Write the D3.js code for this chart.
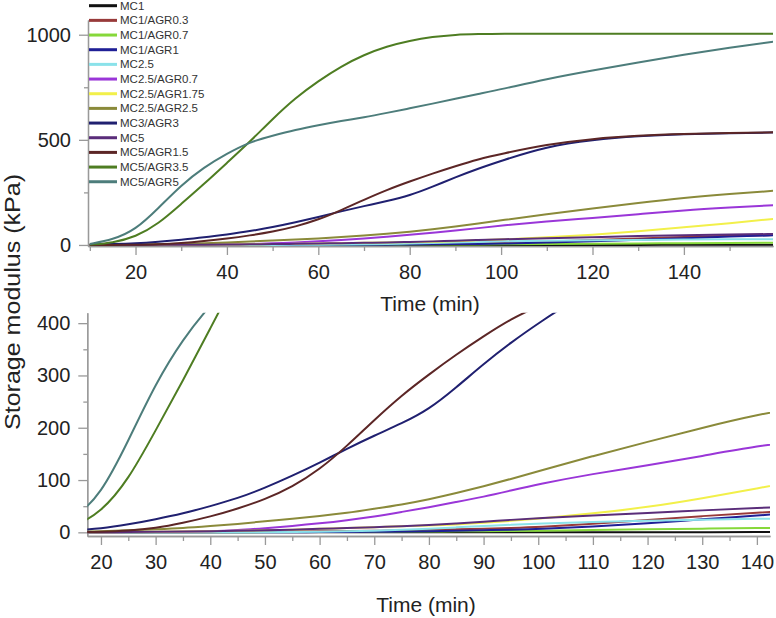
<!DOCTYPE html>
<html>
<head>
<meta charset="utf-8">
<script src="https://cdn.jsdelivr.net/npm/d3@7"></script>
<style>
  body { margin: 0; background: #fff; }
  svg { display: block; font-family: "Liberation Sans", Arial, sans-serif; }
  .axis path, .axis line { stroke: #999; stroke-width: 1.3; }
  .axis text { fill: #222; font-size: 20px; font-family: "Liberation Sans", Arial, sans-serif; }
</style>
</head>
<body>
<div class="container"></div>
<script>
// time points (min)
const times = [10, 15, 20, 25, 30, 35, 40, 45, 50, 55, 60, 65, 70, 75, 80, 85, 90, 95, 100, 110, 120, 130, 140, 150, 160];

// storage modulus (kPa) per formulation
const mc1        = [0, 0, 0, 0, 0, 0, 0, 0, 0, 0, 0, 0, 0, 0, 0, 0, 0, 0, 0, 0, 0, 0.3, 0.8, 1, 1];
const mc1Agr03   = [0, 0, 0, 0, 0.5, 0.5, 1, 1, 1.5, 1.5, 2, 2.5, 3, 4, 5, 6, 7, 8.5, 10, 16, 24, 31, 38, 43, 47];
const mc1Agr07   = [0, 0, 0, 0, 0, 0, 0, 0, 0.5, 0.5, 0.5, 1, 1, 1.5, 1.5, 2, 2, 2.5, 3, 4.5, 6, 7, 8, 9.5, 11];
const mc1Agr1    = [0, 0, 0, 0, 0, 0, 0, 0, 0, 0, 0.5, 0.5, 1, 1.5, 2, 3, 4, 5, 6, 11, 17, 25, 32, 40, 46];
const mc25       = [0, 0, 0, 0, 0, 0, 0, 0, 0, 0.5, 1, 2, 3, 5, 7, 9.5, 12, 14.5, 17, 20, 22, 24, 26, 27, 27];
const mc25Agr07  = [0, 0, 0, 0.5, 0.5, 1, 2, 4, 8, 12, 17, 23, 30, 39, 48, 58, 68, 80, 92, 112, 128, 146, 165, 178, 190];
const mc25Agr175 = [0, 0, 0, 0.5, 1, 1.5, 2, 3, 4, 5, 7, 8, 10, 11.5, 13, 15, 18, 22, 26, 36, 48, 65, 84, 103, 125];
const mc25Agr25  = [0, 1, 2, 4, 6, 8, 12, 16, 21, 26, 31, 37, 45, 53, 63, 75, 88, 102, 117, 146, 173, 200, 225, 243, 258];
const mc3Agr3    = [2, 4, 7, 15, 25, 36, 50, 65, 85, 108, 133, 160, 185, 208, 235, 277, 322, 363, 400, 468, 500, 518, 527, 532, 535];
const mc5        = [0, 0, 0, 0.5, 1, 1.5, 2, 3, 4, 5, 7, 8, 10, 11.5, 14, 17, 20, 24, 27, 32, 37, 42, 47, 50, 52];
const mc5Agr15   = [0, 0, 1, 3, 8, 18, 30, 45, 63, 87, 120, 165, 215, 262, 302, 340, 375, 408, 433, 478, 505, 520, 528, 532, 536];
const mc5Agr35   = [2, 10, 38, 100, 195, 290, 390, 490, 600, 700, 780, 850, 905, 945, 972, 990, 1000, 1003, 1005, 1005, 1005, 1005, 1005, 1005, 1005];
const mc5Agr5    = [5, 25, 72, 175, 285, 370, 435, 490, 520, 548, 570, 590, 607, 628, 650, 672, 695, 718, 740, 790, 830, 868, 905, 938, 968];

const names  = ["MC1", "MC1/AGR0.3", "MC1/AGR0.7", "MC1/AGR1", "MC2.5", "MC2.5/AGR0.7", "MC2.5/AGR1.75",
                "MC2.5/AGR2.5", "MC3/AGR3", "MC5", "MC5/AGR1.5", "MC5/AGR3.5", "MC5/AGR5"];
const colors = ["#111111", "#983a3a", "#86d83a", "#1f1f96", "#8ae2ea", "#9a36d8", "#f2f04a",
                "#8a8a3a", "#202070", "#5a2d7a", "#5c2626", "#4e7d22", "#4d7d7b"];
const values = [mc1, mc1Agr03, mc1Agr07, mc1Agr1, mc25, mc25Agr07, mc25Agr175,
                mc25Agr25, mc3Agr3, mc5, mc5Agr15, mc5Agr35, mc5Agr5];

const series = names.map((n, i) => ({
  name: n,
  color: colors[i],
  points: times.map((t, j) => ({t: t, v: values[i][j]}))
}));

const W = 776, H = 618;
const svg = d3.select(".container")
              .append("svg")
              .attr("width", W)
              .attr("height", H);

function panel(cfg) {
  const x = d3.scaleLinear().domain(cfg.xDomain).range(cfg.xRange);
  const y = d3.scaleLinear().domain(cfg.yDomain).range(cfg.yRange);
  const g = svg.append("g");

  g.append("clipPath")
   .attr("id", cfg.id)
   .append("rect")
   .attr("x", cfg.xRange[0])
   .attr("y", cfg.yRange[1])
   .attr("width", cfg.xRange[1] - cfg.xRange[0])
   .attr("height", cfg.yRange[0] - cfg.yRange[1]);

  // minor ticks first, then major axis with labels
  g.append("g")
   .attr("class", "axis")
   .attr("transform", `translate(0, ${cfg.yRange[0]})`)
   .call(d3.axisBottom(x).tickValues(cfg.xMinor).tickSize(5).tickSizeOuter(0).tickFormat(""));
  g.append("g")
   .attr("class", "axis")
   .attr("transform", `translate(0, ${cfg.yRange[0]})`)
   .call(d3.axisBottom(x).tickValues(cfg.xMajor).tickSize(9).tickPadding(10).tickSizeOuter(0).tickFormat(d3.format("d")));
  g.append("g")
   .attr("class", "axis")
   .attr("transform", `translate(${cfg.xRange[0]}, 0)`)
   .call(d3.axisLeft(y).tickValues(cfg.yMinor).tickSize(4).tickSizeOuter(0).tickFormat(""));
  g.append("g")
   .attr("class", "axis")
   .attr("transform", `translate(${cfg.xRange[0]}, 0)`)
   .call(d3.axisLeft(y).tickValues(cfg.yMajor).tickSize(9).tickPadding(8).tickSizeOuter(0).tickFormat(d3.format("d")));

  const line = d3.line()
                 .curve(d3.curveBasis)
                 .x(d => x(d.t))
                 .y(d => y(d.v));

  g.append("g")
   .attr("clip-path", `url(#${cfg.id})`)
   .selectAll("path")
   .data(series)
   .join("path")
   .attr("fill", "none")
   .attr("stroke", d => d.color)
   .attr("stroke-width", 2)
   .attr("d", d => line(d.points));

  g.append("text")
   .attr("x", cfg.titleX)
   .attr("y", cfg.titleY)
   .attr("text-anchor", "middle")
   .attr("fill", "#222")
   .style("font-size", "21px")
   .text("Time (min)");
}

panel({
  id: "clipTop",
  xDomain: [9.6, 159.5], xRange: [88, 773],
  yDomain: [-5, 1070], yRange: [246, 20],
  xMajor: d3.range(20, 141, 20), xMinor: d3.range(10, 160, 20),
  yMajor: [0, 500, 1000], yMinor: [250, 750],
  titleX: 430, titleY: 311
});

panel({
  id: "clipBottom",
  xDomain: [17.5, 142.4], xRange: [87.3, 770],
  yDomain: [-7, 420], yRange: [536, 312.7],
  xMajor: d3.range(20, 141, 10), xMinor: d3.range(25, 140, 10),
  yMajor: d3.range(0, 401, 100), yMinor: d3.range(50, 400, 100),
  titleX: 426, titleY: 612
});

// shared y label
svg.append("text")
   .attr("transform", "translate(20, 302) rotate(-90)")
   .attr("text-anchor", "middle")
   .attr("fill", "#222")
   .attr("textLength", 256)
   .attr("lengthAdjust", "spacingAndGlyphs")
   .style("font-size", "22px")
   .text("Storage modulus (kPa)");

// legend
const legend = svg.append("g")
                  .selectAll("g")
                  .data(series)
                  .join("g")
                  .attr("transform", (d, i) => `translate(89, ${5.7 + i * 14.67})`);
legend.append("line")
      .attr("x1", 0).attr("x2", 28)
      .attr("stroke", d => d.color)
      .attr("stroke-width", 3);
legend.append("text")
      .attr("x", 31)
      .attr("dy", "0.35em")
      .attr("fill", "#333")
      .style("font-size", "11.5px")
      .text(d => d.name);
</script>
</body>
</html>
